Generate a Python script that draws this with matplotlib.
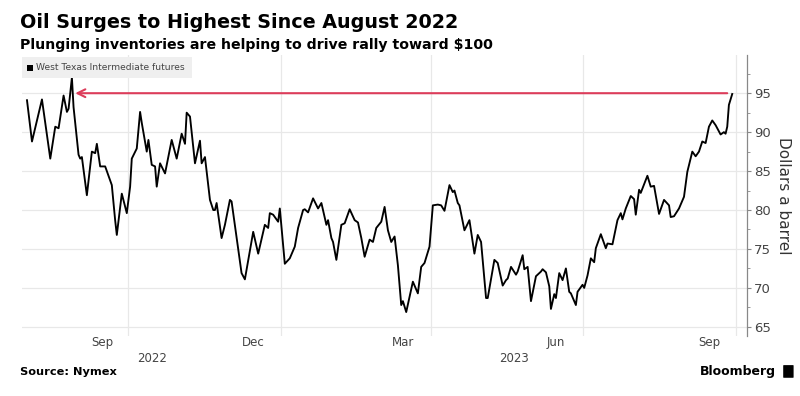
import matplotlib
matplotlib.use('Agg')
import matplotlib.pyplot as plt
import matplotlib.dates as mdates
from matplotlib.patches import Rectangle, FancyBboxPatch
from matplotlib.ticker import MultipleLocator
import pandas as pd

# WTI futures, dollars a barrel
dates = [
    '2022-08-01', '2022-08-04', '2022-08-06', '2022-08-10', '2022-08-15', '2022-08-18',
    '2022-08-20', '2022-08-23', '2022-08-25', '2022-08-26', '2022-08-28', '2022-08-29',
    '2022-09-01', '2022-09-02', '2022-09-03', '2022-09-06', '2022-09-09', '2022-09-11',
    '2022-09-12', '2022-09-14', '2022-09-17', '2022-09-21', '2022-09-23', '2022-09-24',
    '2022-09-27', '2022-09-30', '2022-10-02', '2022-10-03', '2022-10-06', '2022-10-08',
    '2022-10-09', '2022-10-12', '2022-10-13', '2022-10-15', '2022-10-17', '2022-10-18',
    '2022-10-20', '2022-10-23', '2022-10-27', '2022-10-30', '2022-11-02', '2022-11-04',
    '2022-11-05', '2022-11-07', '2022-11-10', '2022-11-13', '2022-11-14', '2022-11-16',
    '2022-11-19', '2022-11-21', '2022-11-22', '2022-11-23', '2022-11-26', '2022-11-28',
    '2022-12-01', '2022-12-02', '2022-12-08', '2022-12-10', '2022-12-15', '2022-12-18',
    '2022-12-22', '2022-12-24', '2022-12-25', '2022-12-27', '2022-12-30', '2022-12-31',
    '2023-01-03', '2023-01-06', '2023-01-09', '2023-01-11', '2023-01-14', '2023-01-15',
    '2023-01-17', '2023-01-20', '2023-01-23', '2023-01-25', '2023-01-28', '2023-01-29',
    '2023-01-31', '2023-02-01', '2023-02-03', '2023-02-06', '2023-02-08', '2023-02-11',
    '2023-02-14', '2023-02-16', '2023-02-18', '2023-02-20', '2023-02-23', '2023-02-25',
    '2023-02-27', '2023-03-02', '2023-03-04', '2023-03-06', '2023-03-08', '2023-03-10',
    '2023-03-12', '2023-03-14', '2023-03-15', '2023-03-17', '2023-03-21', '2023-03-24',
    '2023-03-26', '2023-03-28', '2023-03-31', '2023-04-02', '2023-04-05', '2023-04-07',
    '2023-04-09', '2023-04-12', '2023-04-14', '2023-04-15', '2023-04-17', '2023-04-18',
    '2023-04-21', '2023-04-24', '2023-04-27', '2023-04-29', '2023-05-01', '2023-05-04',
    '2023-05-05', '2023-05-09', '2023-05-11', '2023-05-14', '2023-05-16', '2023-05-17',
    '2023-05-19', '2023-05-22', '2023-05-23', '2023-05-26', '2023-05-27', '2023-05-29',
    '2023-05-31', '2023-06-03', '2023-06-06', '2023-06-07', '2023-06-09', '2023-06-11',
    '2023-06-12', '2023-06-14', '2023-06-15', '2023-06-17', '2023-06-19', '2023-06-21',
    '2023-06-23', '2023-06-24', '2023-06-27', '2023-06-28', '2023-07-01', '2023-07-02',
    '2023-07-04', '2023-07-05', '2023-07-06', '2023-07-08', '2023-07-09', '2023-07-12',
    '2023-07-15', '2023-07-16', '2023-07-19', '2023-07-22', '2023-07-24', '2023-07-25',
    '2023-07-27', '2023-07-30', '2023-08-01', '2023-08-02', '2023-08-04', '2023-08-05',
    '2023-08-09', '2023-08-11', '2023-08-13', '2023-08-16', '2023-08-19', '2023-08-22',
    '2023-08-23', '2023-08-25', '2023-08-28', '2023-08-31', '2023-09-02', '2023-09-05',
    '2023-09-07', '2023-09-09', '2023-09-11', '2023-09-13', '2023-09-15', '2023-09-17',
    '2023-09-19', '2023-09-22', '2023-09-24', '2023-09-25', '2023-09-26', '2023-09-27',
    '2023-09-29',
]
wti = [
    94.1, 88.8, 90.6, 94.2, 86.6, 90.7,
    90.5, 94.7, 92.6, 93.0, 97.0, 93.2,
    87.1, 86.6, 86.8, 81.9, 87.5, 87.3,
    88.5, 85.6, 85.6, 83.2, 78.7, 76.8,
    82.1, 79.6, 83.0, 86.6, 87.9, 92.6,
    91.2, 87.5, 89.0, 85.8, 85.6, 83.0,
    86.0, 84.7, 89.0, 86.6, 89.8, 88.5,
    92.5, 92.0, 86.0, 88.9, 86.0, 86.8,
    81.3, 80.0, 80.0, 80.9, 76.4, 78.1,
    81.3, 81.1, 71.9, 71.1, 77.2, 74.4,
    78.1, 77.7, 79.6, 79.4, 78.5, 80.2,
    73.1, 73.8, 75.3, 77.7, 80.0, 80.1,
    79.7, 81.5, 80.2, 80.9, 78.1, 78.7,
    76.4, 75.9, 73.6, 78.1, 78.3, 80.1,
    78.7, 78.4, 76.4, 74.0, 76.2, 75.9,
    77.7, 78.5, 80.4, 77.4, 75.9, 76.6,
    72.9, 67.8, 68.3, 66.9, 70.8, 69.3,
    72.7, 73.2, 75.3, 80.6, 80.7, 80.6,
    79.9, 83.2, 82.3, 82.5, 80.9, 80.6,
    77.4, 78.7, 74.4, 76.8, 75.9, 68.7,
    68.7, 73.6, 73.2, 70.3, 71.0, 71.2,
    72.7, 71.7, 72.1, 74.2, 72.4, 72.7,
    68.3, 71.5, 72.1, 72.4, 72.0, 70.2,
    67.3, 69.2, 68.7, 71.9, 71.0, 72.5,
    69.5, 69.3, 67.8, 69.5, 70.4, 70.0,
    71.6, 72.7, 73.8, 73.3, 75.1, 76.9,
    75.1, 75.7, 75.6, 78.7, 79.6, 78.8,
    80.2, 81.8, 81.4, 79.4, 82.6, 82.2,
    84.4, 83.0, 83.1, 79.5, 81.3, 80.6,
    79.1, 79.2, 80.2, 81.7, 84.9, 87.5,
    86.9, 87.5, 88.8, 88.6, 90.7, 91.5,
    90.9, 89.7, 90.0, 89.8, 90.7, 93.5,
    94.9,
]

month_ticks = ['2022-09-15', '2022-12-15', '2023-03-15', '2023-06-15', '2023-09-15']
month_labels = ['Sep', 'Dec', 'Mar', 'Jun', 'Sep']
quarter_lines = ['2022-10-01', '2023-01-01', '2023-04-01', '2023-07-01', '2023-10-01']
year_labels = ['2022', '2023']

arrow_start = '2022-08-30'
arrow_end = '2023-09-26'
arrow_level = 95

x = pd.to_datetime(dates)
x_lo = pd.Timestamp('2022-07-29')
x_hi = pd.Timestamp('2023-10-08')

fig = plt.figure(figsize=(8, 3.96), dpi=100)
ax = fig.add_axes([0.0275, 0.152, 0.9065, 0.709])

for d in quarter_lines:
    ax.axvline(pd.Timestamp(d), color='#e8e8e8', lw=0.9, zorder=0)
ax.yaxis.grid(True, color='#e8e8e8', lw=0.9, zorder=0)

ax.plot(x, wti, color='black', lw=1.35, zorder=3)

ax.annotate('', xy=(pd.Timestamp(arrow_start), arrow_level),
            xytext=(pd.Timestamp(arrow_end), arrow_level),
            arrowprops=dict(arrowstyle='->', color='#dc3c5a', lw=1.5,
                            mutation_scale=14, shrinkA=0, shrinkB=0),
            zorder=4)

ax.set_xlim(x_lo, x_hi)
ax.set_ylim(63.85, 99.9)

for s in ['left', 'top', 'bottom']:
    ax.spines[s].set_visible(False)
ax.spines['right'].set_color('#888888')
ax.spines['right'].set_linewidth(0.9)

ax.yaxis.tick_right()
ax.set_yticks([65, 70, 75, 80, 85, 90, 95])
ax.yaxis.set_minor_locator(MultipleLocator(2.5))
ax.tick_params(axis='y', which='major', length=3, width=0.8, color='#888888',
               labelsize=9.5, labelcolor='#444444', pad=2)
ax.tick_params(axis='y', which='minor', length=2, width=0.6, color='#888888')

ax.set_xticks(pd.to_datetime(month_ticks))
ax.set_xticklabels(month_labels)
ax.tick_params(axis='x', length=0, labelsize=8.5, labelcolor='#444444', pad=0)

# year labels centred under each year's span
lo = mdates.date2num(x_lo)
jan = mdates.date2num(pd.Timestamp('2023-01-01'))
hi = mdates.date2num(x_hi)
trans = ax.get_xaxis_transform()
ax.text((lo + jan) / 2, -0.057, year_labels[0], transform=trans, ha='center', va='top',
        fontsize=8.5, color='#444444')
ax.text((jan + hi) / 2, -0.057, year_labels[1], transform=trans, ha='center', va='top',
        fontsize=8.5, color='#444444')

ax.yaxis.set_label_position('right')
ax.set_ylabel('Dollars a barrel', rotation=-90, labelpad=14, fontsize=11, color='#333333')

# titles
fig.text(0.025, 0.944, 'Oil Surges to Highest Since August 2022', fontsize=13.8,
         fontweight='bold', va='center', ha='left', color='black')
fig.text(0.025, 0.886, 'Plunging inventories are helping to drive rally toward $100',
         fontsize=10.2, fontweight='bold', va='center', ha='left', color='black')

# legend box
fig.patches.append(Rectangle((0.0275, 0.803), 0.2125, 0.053, transform=fig.transFigure,
                             facecolor='#efefef', edgecolor='none', zorder=5))
fig.patches.append(Rectangle((0.034, 0.821), 0.0075, 0.015, transform=fig.transFigure,
                             facecolor='black', edgecolor='none', zorder=6))
fig.text(0.0445, 0.829, 'West Texas Intermediate futures', fontsize=6.6,
         color='#444444', va='center', ha='left', zorder=6)

# footer
fig.text(0.025, 0.061, 'Source: Nymex', fontsize=8.2, fontweight='bold',
         va='center', ha='left', color='black')
fig.text(0.970, 0.063, 'Bloomberg', fontsize=9, fontweight='bold',
         va='center', ha='right', color='black')
fig.patches.append(FancyBboxPatch((0.980, 0.047), 0.011, 0.030, transform=fig.transFigure,
                                  boxstyle='round,pad=0.001', facecolor='black',
                                  edgecolor='none'))

fig.savefig('out.png', dpi=100, facecolor='white')
